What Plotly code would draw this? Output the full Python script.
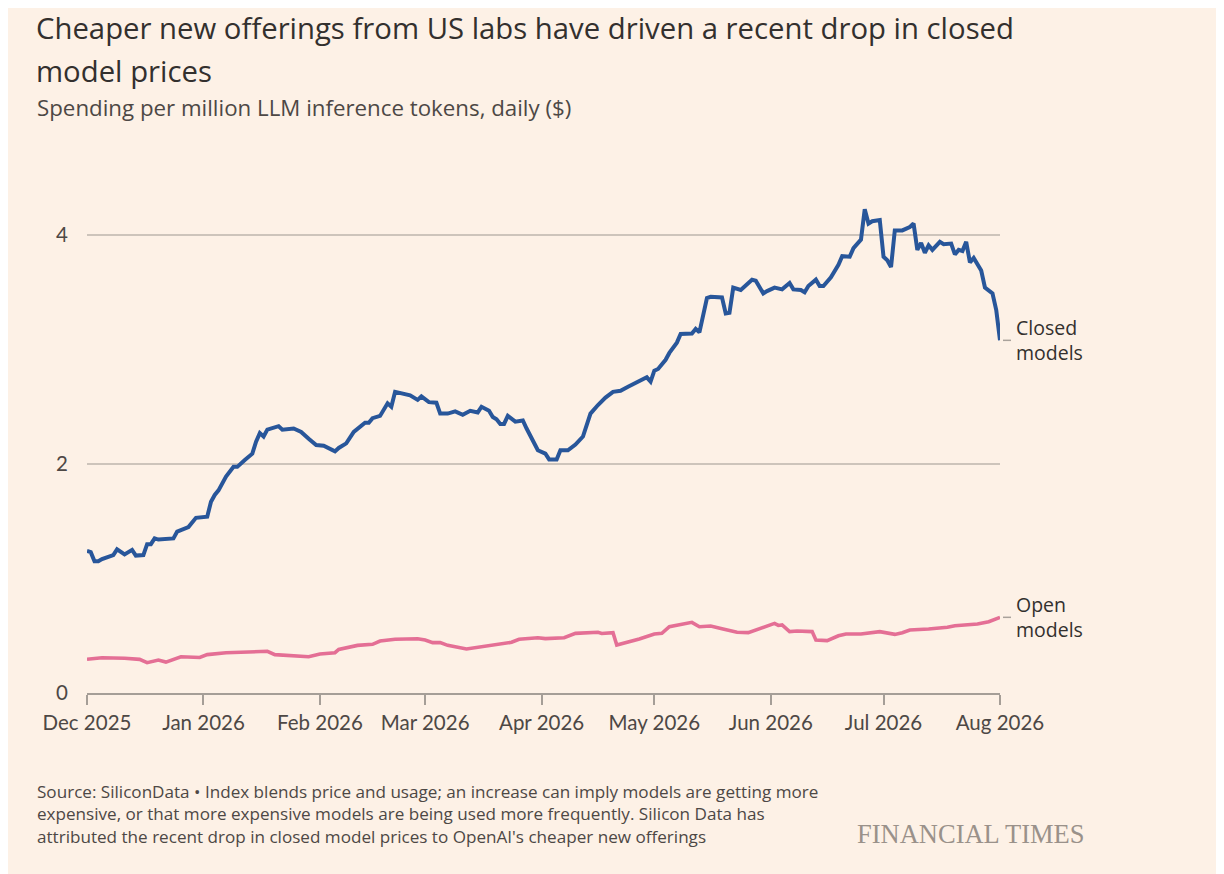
import plotly.graph_objects as go

# ---------------- data ----------------
closed_dates = [
    "2025-12-01", "2025-12-02", "2025-12-03", "2025-12-04", "2025-12-05", "2025-12-08", "2025-12-09",
    "2025-12-11", "2025-12-13", "2025-12-14", "2025-12-16", "2025-12-17", "2025-12-18", "2025-12-19",
    "2025-12-20", "2025-12-24", "2025-12-25", "2025-12-28", "2025-12-30",
    "2026-01-02", "2026-01-03", "2026-01-04", "2026-01-05", "2026-01-07", "2026-01-09", "2026-01-10",
    "2026-01-12", "2026-01-14", "2026-01-15", "2026-01-16", "2026-01-17", "2026-01-18", "2026-01-21",
    "2026-01-22", "2026-01-25", "2026-01-27", "2026-01-29", "2026-01-31",
    "2026-02-02", "2026-02-03", "2026-02-05", "2026-02-06", "2026-02-08", "2026-02-10", "2026-02-11",
    "2026-02-13", "2026-02-14", "2026-02-15", "2026-02-17", "2026-02-19", "2026-02-20", "2026-02-21",
    "2026-02-25", "2026-02-27", "2026-02-28",
    "2026-03-02", "2026-03-04", "2026-03-05", "2026-03-07", "2026-03-09", "2026-03-11", "2026-03-13",
    "2026-03-15", "2026-03-16", "2026-03-18", "2026-03-19", "2026-03-20", "2026-03-21", "2026-03-22",
    "2026-03-23", "2026-03-25", "2026-03-27", "2026-03-28", "2026-03-29", "2026-03-31",
    "2026-04-02", "2026-04-03", "2026-04-05", "2026-04-06", "2026-04-08", "2026-04-10", "2026-04-12",
    "2026-04-13", "2026-04-14", "2026-04-16", "2026-04-18", "2026-04-20", "2026-04-22", "2026-04-24",
    "2026-04-26", "2026-04-29", "2026-04-30",
    "2026-05-01", "2026-05-02", "2026-05-04", "2026-05-05", "2026-05-07", "2026-05-08", "2026-05-11",
    "2026-05-12", "2026-05-13", "2026-05-15", "2026-05-16", "2026-05-19", "2026-05-20", "2026-05-21",
    "2026-05-22", "2026-05-24", "2026-05-25", "2026-05-27", "2026-05-28", "2026-05-30", "2026-05-31",
    "2026-06-02", "2026-06-04", "2026-06-06", "2026-06-07", "2026-06-09", "2026-06-10", "2026-06-11",
    "2026-06-13", "2026-06-14", "2026-06-15", "2026-06-17", "2026-06-19", "2026-06-20", "2026-06-22",
    "2026-06-23", "2026-06-25", "2026-06-26", "2026-06-27", "2026-06-28", "2026-06-30",
    "2026-07-01", "2026-07-02", "2026-07-03", "2026-07-04", "2026-07-06", "2026-07-08", "2026-07-09",
    "2026-07-10", "2026-07-11", "2026-07-12", "2026-07-13", "2026-07-14", "2026-07-16", "2026-07-17",
    "2026-07-19", "2026-07-20", "2026-07-21", "2026-07-22", "2026-07-23", "2026-07-24", "2026-07-25",
    "2026-07-27", "2026-07-28", "2026-07-30", "2026-07-31", "2026-08-01",
]
closed_values = [
    1.24, 1.23, 1.15, 1.15, 1.17, 1.205, 1.255,
    1.21, 1.25, 1.20, 1.205, 1.30, 1.30, 1.35,
    1.34, 1.35, 1.41, 1.45, 1.53,
    1.54, 1.67, 1.73, 1.77, 1.89, 1.975, 1.975,
    2.035, 2.09, 2.195, 2.27, 2.24, 2.30, 2.33,
    2.30, 2.31, 2.28, 2.22, 2.165,
    2.16, 2.14, 2.11, 2.14, 2.18, 2.28, 2.31,
    2.36, 2.36, 2.40, 2.42, 2.53, 2.50, 2.63,
    2.60, 2.56, 2.59,
    2.54, 2.535, 2.44, 2.44, 2.46, 2.43, 2.465,
    2.45, 2.50, 2.465, 2.41, 2.39, 2.35, 2.35,
    2.42, 2.37, 2.38, 2.31, 2.24, 2.12,
    2.09, 2.04, 2.04, 2.12, 2.12, 2.17, 2.24,
    2.34, 2.44, 2.515, 2.58, 2.63, 2.64, 2.675,
    2.71, 2.757, 2.72,
    2.815, 2.83, 2.91, 2.97, 3.06, 3.135, 3.14,
    3.18, 3.15, 3.45, 3.46, 3.455, 3.315, 3.32,
    3.54, 3.52, 3.55, 3.61, 3.60, 3.49, 3.51,
    3.54, 3.525, 3.58, 3.525, 3.52, 3.50, 3.555,
    3.61, 3.555, 3.555, 3.63, 3.74, 3.815, 3.81,
    3.885, 3.96, 4.225, 4.10, 4.12, 4.13,
    3.81, 3.78, 3.72, 4.04, 4.04, 4.07, 4.10,
    3.87, 3.93, 3.845, 3.91, 3.87, 3.94, 3.92,
    3.925, 3.83, 3.87, 3.86, 3.94, 3.76, 3.80,
    3.69, 3.54, 3.49, 3.345, 3.08,
]

open_dates = [
    "2025-12-01", "2025-12-05", "2025-12-11", "2025-12-15", "2025-12-17", "2025-12-20", "2025-12-22",
    "2025-12-26", "2025-12-31",
    "2026-01-02", "2026-01-07", "2026-01-13", "2026-01-18", "2026-01-20", "2026-01-25", "2026-01-29",
    "2026-02-01", "2026-02-05", "2026-02-06", "2026-02-11", "2026-02-15", "2026-02-17", "2026-02-21",
    "2026-02-27",
    "2026-03-01", "2026-03-03", "2026-03-05", "2026-03-07", "2026-03-12", "2026-03-17", "2026-03-19",
    "2026-03-24", "2026-03-26", "2026-03-31",
    "2026-04-02", "2026-04-05", "2026-04-07", "2026-04-10", "2026-04-16", "2026-04-17", "2026-04-20",
    "2026-04-21", "2026-04-24", "2026-04-27",
    "2026-05-01", "2026-05-03", "2026-05-05", "2026-05-09", "2026-05-11", "2026-05-13", "2026-05-16",
    "2026-05-19", "2026-05-23", "2026-05-26", "2026-05-29",
    "2026-06-02", "2026-06-03", "2026-06-04", "2026-06-06", "2026-06-08", "2026-06-12", "2026-06-13",
    "2026-06-16", "2026-06-19", "2026-06-21", "2026-06-25", "2026-06-30",
    "2026-07-04", "2026-07-06", "2026-07-08", "2026-07-13", "2026-07-18", "2026-07-20", "2026-07-26",
    "2026-07-29", "2026-08-01",
]
open_values = [
    0.295, 0.308, 0.303, 0.294, 0.265, 0.288, 0.27,
    0.317, 0.31,
    0.335, 0.352, 0.36, 0.364, 0.335, 0.323, 0.317,
    0.34, 0.352, 0.38, 0.416, 0.425, 0.454, 0.469,
    0.474,
    0.463, 0.44, 0.44, 0.416, 0.384, 0.41, 0.419,
    0.443, 0.469, 0.483,
    0.475, 0.483, 0.483, 0.521, 0.53, 0.52, 0.527,
    0.419, 0.445, 0.472,
    0.515, 0.521, 0.579, 0.60, 0.617, 0.579, 0.585,
    0.562, 0.53, 0.527, 0.562,
    0.608, 0.59, 0.595, 0.536, 0.541, 0.536, 0.463,
    0.457, 0.50, 0.515, 0.515, 0.536,
    0.512, 0.527, 0.55, 0.559, 0.574, 0.588, 0.603,
    0.623, 0.661,
]

month_ticks = ["2025-12-01", "2026-01-01", "2026-02-01", "2026-03-01", "2026-04-01",
               "2026-05-01", "2026-06-01", "2026-07-01", "2026-08-01"]
month_labels = ["Dec 2025", "Jan 2026", "Feb 2026", "Mar 2026", "Apr 2026",
                "May 2026", "Jun 2026", "Jul 2026", "Aug 2026"]
y_ticks = [0, 2, 4]

title_lines = ["Cheaper new offerings from US labs have driven a recent drop in closed",
               "model prices"]
subtitle = "Spending per million LLM inference tokens, daily ($)"
footnote_lines = [
    "Source: SiliconData \u2022 Index blends price and usage; an increase can imply models are getting more",
    "expensive, or that more expensive models are being used more frequently. Silicon Data has",
    "attributed the recent drop in closed model prices to OpenAI's cheaper new offerings",
]
series_labels = ["Closed<br>models", "Open<br>models"]

# ---------------- style ----------------
BG = "#fdf1e6"
BLUE = "#28569a"
PINK = "#e46f95"
TEXT = "#33302e"
MUTED = "#4d4845"
FONT = "Open Sans"
TICKFONT = "Lato"

OFF = 8  # page body margin
W, H = 1224 - OFF, 874 - OFF
PLOT_L, PLOT_R, PLOT_T, PLOT_B = 87, 1000, 150, 693  # page pixel coords
L, T = PLOT_L - OFF, PLOT_T - OFF
R, B = W - (PLOT_R - OFF), H - (PLOT_B - OFF)
PW, PH = PLOT_R - PLOT_L, PLOT_B - PLOT_T


def px_x(x):
    return (x - PLOT_L) / PW


def px_y(y):
    return (PLOT_B - y) / PH


fig = go.Figure()
fig.add_trace(go.Scatter(x=closed_dates, y=closed_values, mode="lines",
                         line=dict(color=BLUE, width=4), cliponaxis=False,
                         name="Closed models", hoverinfo="skip"))
fig.add_trace(go.Scatter(x=open_dates, y=open_values, mode="lines",
                         line=dict(color=PINK, width=3.6), cliponaxis=False,
                         name="Open models", hoverinfo="skip"))

ann = []
ann.append(dict(text=title_lines[0], x=px_x(35), y=px_y(28), xref="paper", yref="paper",
                xanchor="left", yanchor="middle", showarrow=False, borderpad=0,
                font=dict(family=FONT, size=29.3, color=TEXT)))
ann.append(dict(text=title_lines[1], x=px_x(35), y=px_y(71), xref="paper", yref="paper",
                xanchor="left", yanchor="middle", showarrow=False, borderpad=0,
                font=dict(family=FONT, size=29.3, color=TEXT)))
ann.append(dict(text=subtitle, x=px_x(35), y=px_y(107), xref="paper", yref="paper",
                xanchor="left", yanchor="middle", showarrow=False,
                font=dict(family=FONT, size=22.3, color=MUTED)))
for i, line in enumerate(footnote_lines):
    ann.append(dict(text=line, x=px_x(35), y=px_y(791 + i * 22.5), xref="paper", yref="paper",
                    xanchor="left", yanchor="middle", showarrow=False,
                    font=dict(family=FONT, size=17.1, color=MUTED)))
ann.append(dict(text="FINANCIAL TIMES", x=px_x(1086), y=px_y(834), xref="paper", yref="paper",
                xanchor="right", yanchor="middle", showarrow=False,
                font=dict(family="Liberation Serif", size=26.5, color="#9a918a")))

# series end labels
for label, yv in zip(series_labels, (closed_values[-1], open_values[-1])):
    ann.append(dict(text=label, x=px_x(1014), y=yv, xref="paper", yref="y",
                    xanchor="left", yanchor="middle", align="left", showarrow=False,
                    font=dict(family=FONT, size=19.5, color=TEXT)))

shapes = []
for yv in (closed_values[-1], open_values[-1]):
    shapes.append(dict(type="line", xref="paper", yref="y", x0=px_x(1003), x1=px_x(1011),
                       y0=yv, y1=yv, line=dict(color="#a9a29b", width=1.5)))

fig.update_layout(
    width=W, height=H,
    paper_bgcolor=BG, plot_bgcolor=BG,
    margin=dict(l=L, r=R, t=T, b=B, autoexpand=False),
    showlegend=False,
    annotations=ann,
    shapes=shapes,
    font=dict(family=FONT, color=MUTED),
    xaxis=dict(
        type="date",
        range=["2025-12-01", "2026-08-01"],
        tickvals=month_ticks, ticktext=month_labels,
        showgrid=False, zeroline=False,
        showline=True, linecolor="#a59e97", linewidth=2,
        ticks="outside", ticklen=10, tickwidth=2, tickcolor="#a59e97",
        tickfont=dict(family=TICKFONT, size=20.5, color=MUTED),
        fixedrange=True,
    ),
    yaxis=dict(
        range=[0, PH / 114.5],
        tickvals=y_ticks, ticktext=[str(v) for v in y_ticks],
        showgrid=True, gridcolor="#cdc4bb", gridwidth=1.6,
        zeroline=False, showline=False, ticks="",
        ticklabelstandoff=18,
        tickfont=dict(family=TICKFONT, size=20.5, color=MUTED),
        fixedrange=True,
    ),
)

fig.write_html("out.html")
